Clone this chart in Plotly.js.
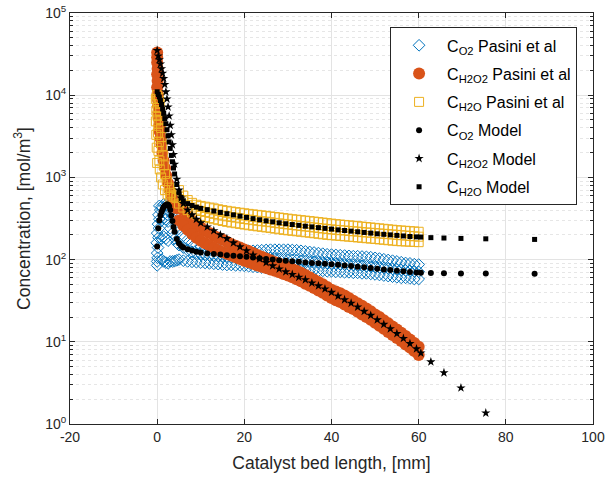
<!DOCTYPE html>
<html>
<head>
<meta charset="utf-8">
<script src="https://cdn.plot.ly/plotly-3.0.1.min.js"></script>
<style>html,body{margin:0;padding:0;background:#fff;}#chart{width:607px;height:481px;}</style>
</head>
<body>
<div id="chart"></div>
<script>
// ---- Experimental data (Pasini et al) ----
// flat region positions, mm
const expX = [5,6,7,8,9,10,11,12,13,14,15,16,17,18,19,20,21,22,23,24,25,26,27,28,29,30,31,32,33,34,35,36,37,38,39,40,41,42,43,44,45,46,47,48,49,50,51,52,53,54,55,56,57,58,59,60];

// O2 measured
const o2HeadX = [0,0,0.1,0,0.2,-0.1,0.3,0,0.4,0.2,0.5,0.3,0.7,0.5,1.0,1.0,1.0,1.0,1.5,1.5,1.5,1.5,2.0,2.0,2.0,2.0,2.5,2.5,2.5,2.5,3.0,3.0,3.0,3.5,3.5,3.5,4.0,4.0,4.0,4.5,4.5,4.5];
const o2HeadY = [85,95,105,120,140,160,185,210,240,270,310,350,400,450,440,300,180,100,470,320,190,95,460,310,180,92,430,290,170,90,380,240,95,340,210,95,300,180,96,250,160,98];
const o2Upper = [220,195,175,160,150,142,138,136,134,133,132,131,130,130,129,128,128,128,129,130,131,132,132,132,132,132,131,130,128,126,124,122,120,118,116,115,114,113,112,111,110,110,109,108,107,105,103,101,99,97,95,93,91,90,88,87];
const o2Mid   = [150,140,130,124,120,117,115,113,112,111,110,109,108,107,106,105,104,104,104,104,104,104,103,102,101,100,99,98,97,96,95,94,93,92,91,90,89,88,87,86,86,85,84,83,82,81,80,79,78,77,76,75,74,73,72,71];
const o2Lower = [100,97,95,94,93,92,91,90,89,88,87,86,86,85,85,84,83,82,81,80,79,79,78,78,77,77,76,76,75,75,74,74,73,73,72,72,71,71,70,70,69,69,68,68,67,66,65,64,63,62,61,60,60,59,58,58];

// H2O2 measured
const h2o2HeadX = [0,0,0,0.1,0,0.1,0,0.1,0.2,0.2,0.3,0.4,0.5,0.6,0.8,1.0,1.2,1.5,1.8,2.1,2.5,2.9,3.3,3.7,4.1,4.5];
const h2o2HeadY = [33000,29000,25000,21000,18000,15000,12500,10500,8800,7400,6200,5200,4300,3600,3000,2500,2000,1600,1300,1050,850,700,600,520,460,420];
const h2o2Upper = [480,400,340,300,270,245,225,210,195,185,175,165,155,147,140,133,127,120,114,108,103,98,93,89,85,81,77,73,69,65,61,57,53.5,50,46.5,43,41,39,36.5,34,31.5,29.5,27.5,25.5,23.5,21.5,20,18.3,16.8,15.4,14.1,12.9,11.8,10.7,9.7,8.7];
const h2o2Lower = [300,260,230,205,185,170,158,148,139,131,124,118,112,107,102,97,93,89,85,82,79,76,73,70,67,64,61,57.5,54.5,51,48,45,42,39.5,36.5,34,32,30.5,28.5,26.5,25,23.2,21.5,20,18.5,17,15.7,14.4,13.2,12.1,11.1,10.2,9.3,8.5,7.7,6.9];

// H2O measured
const h2oHeadX = [0,0.4,0.1,0.6,0.2,0.7,0.1,0.8,0.3,0.9,0.2,1.0,0.4,1.1,0.3,1.3,0.5,1.5,0.6,1.8,0.9,2.2,1.3,2.7,1.8,3.2,2.4,3.8,3.0,4.4,-0.3,-0.2,-0.3,-0.2,-0.1,0.0];
const h2oHeadY = [10000,9300,8500,7800,7000,6300,5600,5000,4500,4000,3500,3100,2700,2400,2100,1850,1600,1400,1250,1100,1000,900,820,750,700,650,620,600,580,560,9000,6500,4800,3300,2300,1500];
const h2oUpper = [700,600,530,490,465,450,440,430,420,410,400,392,385,378,372,366,360,355,350,345,340,335,330,325,320,315,310,306,302,298,294,290,286,282,278,274,270,267,264,261,258,255,252,249,246,243,240,237,234,231,228,226,224,222,220,218];
const h2oMid   = [580,510,460,430,405,390,380,370,360,352,343,336,330,324,318,312,307,302,297,293,289,285,280,276,272,268,264,260,256,253,250,246,242,239,236,233,230,228,226,223,221,219,216,214,212,210,208,206,204,202,200,198,196,194,192,190];
const h2oLower = [480,430,400,375,355,340,330,320,310,302,295,288,282,277,272,267,262,258,254,250,246,242,238,234,230,227,224,221,218,215,212,209,206,203,200,198,196,194,192,190,188,186,184,182,180,178,176,174,172,170,168,167,166,165,164,163];

// ---- Model ----
const mX = [0,0.25,0.5,0.75,1,1.25,1.5,1.75,2,2.25,2.5,2.75,3,3.25,3.5,3.75,4,4.5,5,5.5,6,7,8,9,10,11.5,13,14.5,16,17.5,19,20.5,22,23.5,25,26.5,28,29.5,31,32.5,34,35.5,37,38.5,40,41.5,43,44.5,46,47.5,49,50.5,52,53.5,55,56.5,58,59.5,60.5,62.8,65.8,69.7,75.4,86.6];
const mO2 = [144,240,300,345,380,410,435,452,463,470,466,445,400,345,295,250,218,178,158,146,140,134,129,125,122,119,117,115,113,111,109.5,108,106,104,102,100,98.5,97,95.5,94,92.5,91,90,89,88,86.5,85,83.5,82,80.5,79,77.5,76,74.5,73,72,70.5,69.5,69,68.5,68,67.8,67.6,67.4];
const mH2O2 = [35000,30000,27000,24000,21000,18500,16000,13500,11000,9000,7200,5600,4300,3300,2500,1900,1450,950,700,560,480,400,350,310,280,250,225,200,180,160,143,128,114,102,92,84,77,71,66,61,57,52,48,44,40,36,32.5,29.5,26.5,23.5,21,18.5,16.3,14.4,12.6,11,9.5,8.2,7.3,5.7,4.2,2.75,1.36,0.4];
const mH2O = [11000,10200,9500,8600,7700,6800,6000,5200,4500,3800,3200,2700,2250,1850,1550,1300,1100,820,650,570,520,480,455,435,420,405,390,375,362,350,338,326,315,305,296,288,280,273,267,261,255,250,245,240,235,230,226,222,218,214,210,206,203,200,197,194,191,189,188,185,183,181,179,176];

const legendNames = [
  'C<sub>O2</sub> Pasini et al',
  'C<sub>H2O2</sub> Pasini et al',
  'C<sub>H2O</sub> Pasini et al',
  'C<sub>O2</sub> Model',
  'C<sub>H2O2</sub> Model',
  'C<sub>H2O</sub> Model'
];
const xTicks = [-20,0,20,40,60,80,100];
const xTickText = ['-20','0','20','40','60','80','100'];
const yTicks = [1,10,100,1000,10000,100000];
const yTickText = ['10<sup>0</sup>','10<sup>1</sup>','10<sup>2</sup>','10<sup>3</sup>','10<sup>4</sup>','10<sup>5</sup>'];

const minorVals = [];
for (let d = 1; d < 100000; d *= 10) { for (let k = 2; k <= 9; k++) minorVals.push(d * k); }

const blue = '#0072BD', orange = '#D95319', yellow = '#EDB120';

const traces = [
  { name: legendNames[0], legendgroup: 'g1', type: 'scatter', mode: 'markers',
    x: o2HeadX.concat(expX, expX, expX), y: o2HeadY.concat(o2Upper, o2Mid, o2Lower),
    marker: { symbol: 'diamond-open', size: 9, color: blue, line: { width: 1, color: blue } } },
  { name: legendNames[1], legendgroup: 'g2', type: 'scatter', mode: 'markers',
    x: h2o2HeadX.concat(expX, expX), y: h2o2HeadY.concat(h2o2Upper, h2o2Lower),
    marker: { symbol: 'circle', size: 12, color: orange } },
  { name: legendNames[2], legendgroup: 'g3', type: 'scatter', mode: 'markers',
    x: h2oHeadX.concat(expX, expX, expX), y: h2oHeadY.concat(h2oUpper, h2oMid, h2oLower),
    marker: { symbol: 'square-open', size: 9, color: yellow, line: { width: 1, color: yellow } } },
  { name: legendNames[3], legendgroup: 'g4', type: 'scatter', mode: 'markers', x: mX, y: mO2,
    marker: { symbol: 'circle', size: 6, color: '#000' } },
  { name: legendNames[4], legendgroup: 'g5', type: 'scatter', mode: 'markers', x: mX, y: mH2O2,
    marker: { symbol: 'star', size: 7, color: '#000' } },
  { name: legendNames[5], legendgroup: 'g6', type: 'scatter', mode: 'markers', x: mX, y: mH2O,
    marker: { symbol: 'square', size: 5, color: '#000' } }
];

const fontFam = 'Liberation Sans, Arial, Helvetica, sans-serif';
const layout = {
  width: 607, height: 481,
  margin: { l: 70, r: 14, t: 13, b: 57 },
  paper_bgcolor: '#fff', plot_bgcolor: '#fff',
  font: { family: fontFam, color: '#262626', size: 14 },
  showlegend: true,
  legend: {
    x: 0.612, y: 0.965, xanchor: 'left', yanchor: 'top',
    bgcolor: '#fff', bordercolor: '#262626', borderwidth: 1,
    itemwidth: 46, tracegroupgap: 4.5,
    font: { family: fontFam, size: 16, color: '#000' }
  },
  xaxis: {
    range: [-20, 100], tickmode: 'array', tickvals: xTicks, ticktext: xTickText,
    showline: true, linecolor: '#262626', linewidth: 1, mirror: 'ticks',
    ticks: 'inside', ticklen: 5, tickcolor: '#262626',
    showgrid: true, gridcolor: '#e3e3e3', zeroline: false,
    tickfont: { size: 14, color: '#262626' },
    title: { text: 'Catalyst bed length, [mm]', font: { size: 17.5, color: '#262626' }, standoff: 12 }
  },
  yaxis: {
    type: 'log', range: [0, 5], tickmode: 'array', tickvals: yTicks, ticktext: yTickText,
    showline: true, linecolor: '#262626', linewidth: 1, mirror: 'ticks',
    ticks: 'inside', ticklen: 5, tickcolor: '#262626',
    showgrid: true, gridcolor: '#e3e3e3', zeroline: false,
    tickfont: { size: 14, color: '#262626' },
    minor: { tickmode: 'array', tickvals: minorVals, ticks: 'inside', ticklen: 3, tickcolor: '#262626',
             showgrid: true, gridcolor: '#e6e6e6', griddash: 'dot', gridwidth: 1 },
    title: { text: 'Concentration, [mol/m<sup>3</sup>]', font: { size: 17.5, color: '#262626' }, standoff: 10 }
  }
};

Plotly.newPlot('chart', traces, layout, { displayModeBar: false, staticPlot: true });
</script>
</body>
</html>
